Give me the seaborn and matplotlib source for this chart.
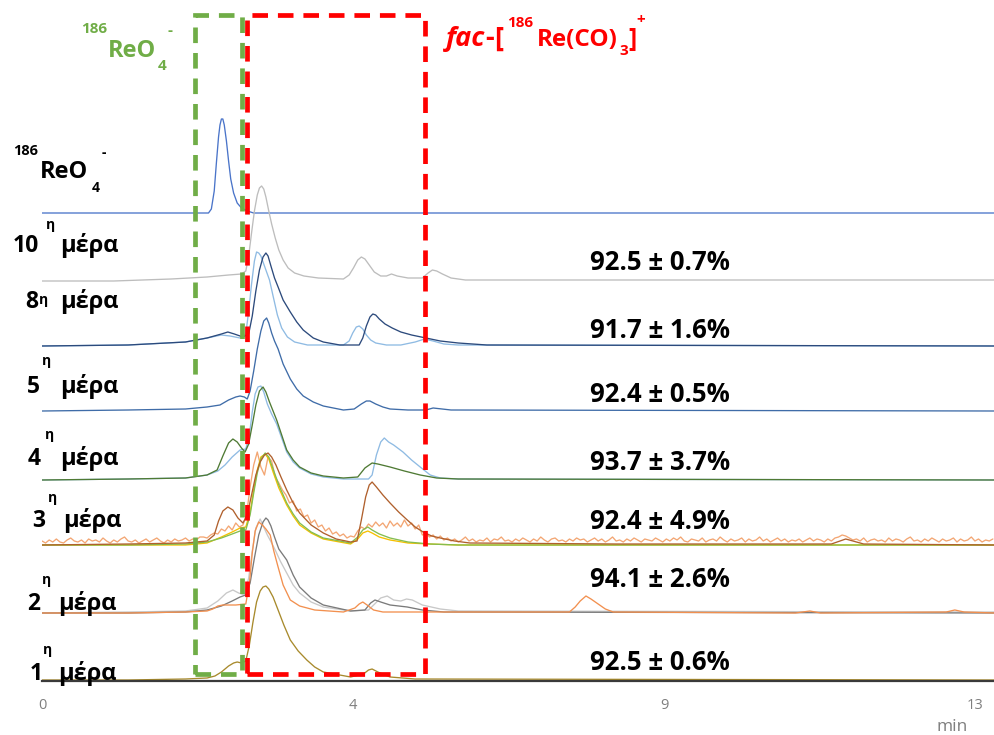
import numpy as np
import matplotlib
matplotlib.use("Agg")
import matplotlib.pyplot as plt
from matplotlib.patches import Rectangle
import seaborn as sns

W, H = 995, 735
T_END = 13.28  # last recorded retention time (min)

# ---------------- chromatogram data (time in min, signal in a.u.) ----------------
reo4_t = [0, 2.32, 2.36, 2.40, 2.43, 2.46, 2.48, 2.50, 2.52, 2.54, 2.57, 2.60, 2.63, 2.67,
          2.72, 2.78, 2.86, 2.95, T_END]
reo4_h = [0, 0, 4, 22, 50, 76, 88, 94, 94, 88, 72, 52, 34, 20,
          10, 5, 2, 0, 0]

d10_gray_t = [0, 1.0, 1.8, 2.3, 2.6, 2.78, 2.84, 2.88, 2.92, 2.96, 3.00, 3.03, 3.06, 3.09, 3.12,
              3.16, 3.20, 3.25, 3.30, 3.36, 3.43, 3.52, 3.65, 3.85, 4.2, 4.28, 4.34, 4.40, 4.45,
              4.50, 4.56, 4.63, 4.72, 4.80, 4.87, 4.95, 5.1, 5.3, 5.38, 5.44, 5.50, 5.58, 5.7,
              5.9, T_END]
d10_gray_h = [0, 0, 2, 4, 6, 7, 10, 25, 48, 70, 86, 93, 95, 92, 84,
              70, 57, 43, 31, 21, 13, 8, 5, 3, 2, 6, 13, 21, 24,
              22, 16, 9, 5, 5, 7, 5, 3, 3, 8, 11, 10, 7, 3,
              1, 1]

d8_light_t = [0, 1.2, 2.0, 2.3, 2.5, 2.62, 2.76, 2.84, 2.88, 2.92, 2.96, 2.99, 3.02, 3.05, 3.08,
              3.12, 3.17, 3.22, 3.28, 3.34, 3.42, 3.52, 3.7, 4.2, 4.28, 4.33, 4.38, 4.42, 4.47,
              4.52, 4.58, 4.65, 4.8, 5.0, 5.2, 5.33, 5.45, 5.6, 5.8, T_END]
d8_light_h = [0, 1, 4, 8, 11, 10, 8, 12, 35, 62, 85, 94, 93, 90, 84,
              76, 66, 50, 31, 18, 9, 4, 1, 1, 5, 13, 19, 20, 17,
              11, 6, 3, 1, 1, 4, 7, 5, 2, 1, 0]

d8_navy_t = [0, 1.2, 2.0, 2.3, 2.5, 2.59, 2.68, 2.8, 2.88, 2.93, 2.98, 3.03, 3.08, 3.12, 3.15,
             3.19, 3.24, 3.29, 3.36, 3.46, 3.55, 3.64, 3.78, 3.92, 4.15, 4.42, 4.47, 4.52, 4.57,
             4.61, 4.65, 4.70, 4.78, 4.88, 5.0, 5.15, 5.35, 5.55, 5.8, 6.2, T_END]
d8_navy_h = [0, 1, 4, 8, 12, 14, 12, 9, 12, 30, 55, 76, 89, 93, 90,
             80, 68, 59, 46, 34, 24, 16, 8, 4, 1, 1, 8, 20, 29,
             32, 31, 27, 22, 18, 14, 11, 8, 5, 3, 1, 0]

d5_blue_t = [0, 1.2, 2.0, 2.3, 2.48, 2.6, 2.7, 2.76, 2.82, 2.86, 2.9, 2.95, 3.0, 3.05, 3.09,
             3.13, 3.16, 3.2, 3.24, 3.29, 3.36, 3.46, 3.55, 3.64, 3.78, 3.92, 4.2, 4.35, 4.45,
             4.52, 4.57, 4.65, 4.75, 4.85, 5.1, 5.35, 5.45, 5.7, T_END]
d5_blue_h = [0, 1, 2, 4, 6, 11, 14, 15, 14, 12, 20, 40, 62, 80, 90,
             93, 88, 78, 70, 62, 47, 32, 22, 15, 9, 5, 1, 2, 7,
             10, 10, 7, 4, 2, 1, 1, 3, 1, 0]

d4_green_t = [0, 1.2, 2.0, 2.3, 2.44, 2.52, 2.6, 2.66, 2.72, 2.78, 2.83, 2.88, 2.93, 2.98, 3.03,
              3.08, 3.12, 3.17, 3.22, 3.27, 3.34, 3.41, 3.5, 3.59, 3.75, 3.92, 4.2, 4.4, 4.5,
              4.6, 4.68, 4.85, 5.05, 5.27, 5.5, 5.8, T_END]
d4_green_h = [0, 1, 2, 5, 10, 24, 37, 41, 38, 32, 28, 36, 55, 75, 89,
              93, 88, 78, 69, 60, 45, 30, 20, 13, 7, 4, 2, 3, 12,
              17, 16, 13, 9, 5, 2, 1, 0]

d4_light_t = [0, 1.2, 2.0, 2.3, 2.45, 2.55, 2.65, 2.76, 2.84, 2.89, 2.93, 2.97, 3.01, 3.05, 3.09,
              3.14, 3.2, 3.27, 3.34, 3.41, 3.5, 3.59, 3.75, 3.92, 4.2, 4.55, 4.6, 4.66, 4.72,
              4.77, 4.83, 4.9, 5.03, 5.15, 5.27, 5.41, 5.55, 5.8, T_END]
d4_light_h = [0, 1, 2, 5, 9, 15, 23, 30, 31, 45, 68, 86, 93, 94, 88,
              76, 66, 56, 42, 28, 18, 12, 6, 3, 1, 1, 5, 25, 38,
              42, 38, 35, 28, 20, 13, 5, 2, 1, 0]

d3_brown_t = [0, 1.2, 2.0, 2.3, 2.4, 2.46, 2.52, 2.59, 2.66, 2.73, 2.8, 2.86, 2.92, 2.98, 3.04,
              3.1, 3.15, 3.2, 3.26, 3.33, 3.41, 3.5, 3.59, 3.75, 3.92, 4.1, 4.3, 4.39, 4.45,
              4.51, 4.56, 4.6, 4.66, 4.75, 4.85, 4.97, 5.09, 5.2, 5.31, 5.43, 5.55, 5.75, 5.96,
              8.0, 11.0, 11.12, 11.2, 11.3, 11.45, T_END]
d3_brown_h = [0, 1, 2, 4, 10, 24, 34, 38, 35, 27, 22, 30, 50, 70, 83,
              90, 92, 88, 80, 68, 55, 42, 32, 20, 12, 6, 3, 4, 25,
              48, 60, 63, 58, 50, 42, 33, 25, 18, 13, 9, 7, 4, 2,
              1, 1, 4, 6, 4, 1, 0]

d3_green_t = [0, 1.2, 2.0, 2.3, 2.5, 2.65, 2.76, 2.84, 2.9, 2.95, 3.0, 3.05, 3.11, 3.16, 3.22,
              3.3, 3.41, 3.5, 3.59, 3.75, 3.92, 4.3, 4.4, 4.47, 4.54, 4.6, 4.7, 4.85, 5.1,
              5.4, 5.8, T_END]
d3_green_h = [0, 0, 1, 3, 7, 11, 14, 15, 30, 52, 72, 86, 92, 88, 76,
              60, 42, 31, 22, 13, 7, 2, 8, 15, 18, 15, 11, 7, 3,
              1, 0, 0]

d3_yellow_t = d3_green_t
d3_yellow_h = [0, 0, 0, 2, 8, 13, 17, 18, 33, 55, 75, 88, 91, 86, 73,
               57, 40, 29, 20, 12, 6, 1, 6, 12, 14, 12, 8, 5, 2,
               1, 0, 0]

# noisy trace, sampled every 0.05 min from 0.00 to 13.25 min
d3_orange_t = np.round(np.arange(266) * 0.05, 2)
d3_orange_h = (
    [4, 2, 5, 3, 6, 3, 2, 5, 7, 4, 3, 5, 2, 6, 4, 5, 3, 7, 4, 2,
     5, 3, 6, 8, 4, 3, 5, 2, 4, 6, 3, 5, 7, 4, 2, 5, 3, 6, 4, 5,
     7, 4, 6, 5, 8]
    + [8, 7, 10, 12, 11, 16, 14, 19, 15, 22, 18, 20,
       30, 58, 80, 93, 78, 70, 88, 84, 68, 62, 55, 50,
       42, 44, 34, 36, 28, 30, 22, 25, 18, 20, 14, 17,
       11, 13, 9, 11, 7, 9, 8, 14, 18, 16, 21, 18,
       23, 19, 22, 17, 24, 19, 22, 18, 25, 19, 22, 16,
       20, 10, 12, 8, 10, 6, 9]
    + [5, 7, 4, 6, 3, 5, 8, 4, 6, 3, 5, 4, 7, 3, 6, 5, 8, 4, 5, 3,
       6, 4, 7, 5, 3, 6, 4, 8, 5, 3, 6, 7, 4, 5, 3, 6, 4, 7, 5, 6,
       3, 5, 7, 4, 6, 3, 5, 8, 4, 5, 3, 6, 4, 7, 5, 3, 6, 5, 4, 7,
       5, 3, 6, 4, 7, 5, 8, 4, 3, 6, 5, 4, 7, 3, 5, 6, 4, 8, 5, 3,
       6, 4, 5, 7, 3, 6, 4, 5, 8, 4, 6, 3, 5, 7, 4, 6, 3, 5, 4, 6,
       3, 5, 7, 4, 6, 5, 3, 6, 4, 7, 8, 10, 9, 7, 5, 6, 4, 7, 3, 5,
       6, 4, 5, 3, 7, 4, 6, 5, 3, 6, 8, 4, 5, 3, 6, 4, 7, 5, 3, 6,
       4, 5, 7, 3, 6, 4, 5, 8, 4, 6, 3, 5, 4, 6]
)

d2_lgray_t = [0, 1.2, 2.0, 2.3, 2.45, 2.57, 2.66, 2.74, 2.82, 2.88, 2.93, 2.98, 3.04, 3.09, 3.14,
              3.2, 3.25, 3.32, 3.41, 3.5, 3.59, 3.75, 3.92, 4.3, 4.55, 4.65, 4.72, 4.81, 4.9,
              5.0, 5.08, 5.16, 5.3, 5.55, 5.8, T_END]
d2_lgray_h = [0, 1, 2, 5, 12, 20, 23, 20, 18, 35, 62, 85, 94, 86, 78,
              70, 63, 52, 40, 28, 20, 11, 6, 2, 3, 10, 15, 17, 13,
              12, 14, 13, 8, 4, 2, 1]

d2_dgray_t = [0, 1.2, 2.0, 2.3, 2.5, 2.65, 2.76, 2.84, 2.9, 2.96, 3.02, 3.08, 3.12, 3.15, 3.19,
              3.24, 3.3, 3.41, 3.5, 3.59, 3.75, 3.92, 4.3, 4.5, 4.58, 4.64, 4.72, 4.85, 5.09,
              5.3, 5.6, T_END]
d2_dgray_h = [0, 0, 1, 3, 7, 12, 16, 18, 30, 55, 78, 91, 95, 93, 87,
              76, 64, 53, 38, 26, 15, 8, 2, 3, 10, 13, 11, 8, 6,
              3, 1, 0]

d2_orange_t = [0, 1.2, 2.0, 2.3, 2.38, 2.45, 2.52, 2.7, 2.84, 2.89, 2.93, 2.97, 3.02, 3.07, 3.12,
               3.18, 3.23, 3.29, 3.36, 3.46, 3.59, 3.8, 4.2, 4.36, 4.42, 4.47, 4.53, 4.62, 4.75,
               7.35, 7.43, 7.5, 7.58, 7.65, 7.75, 7.85, 7.96, 10.5, 10.7, 10.85, 12.6, 12.72,
               12.85, T_END]
d2_orange_h = [0, 0, 1, 2, 4, 7, 8, 8, 9, 30, 60, 82, 91, 88, 84,
               78, 62, 46, 28, 13, 7, 3, 1, 5, 9, 11, 8, 3, 1,
               1, 6, 12, 17, 14, 9, 4, 1, 0, 2, 0, 1, 3,
               1, 0]

d1_gold_t = [0, 1.2, 2.0, 2.3, 2.41, 2.5, 2.6, 2.67, 2.72, 2.78, 2.84, 2.89, 2.94, 2.99, 3.04,
             3.08, 3.12, 3.16, 3.22, 3.29, 3.37, 3.46, 3.57, 3.69, 3.8, 3.92, 4.3, 4.48, 4.55,
             4.6, 4.68, 4.85, 5.2, T_END]
d1_gold_h = [0, 0, 1, 2, 4, 8, 14, 17, 18, 17, 19, 35, 58, 78, 89,
             93, 94, 91, 83, 70, 55, 40, 29, 20, 13, 8, 3, 6, 10,
             11, 8, 3, 1, 0]

# radiochemical purity of the complex per sampling day
day_numbers = ["10", "8", "5", "4", "3", "2", "1"]
purity_labels = ["92.5 ± 0.7%", "91.7 ± 1.6%", "92.4 ± 0.5%", "93.7 ± 3.7%",
                 "92.4 ± 4.9%", "94.1 ± 2.6%", "92.5 ± 0.6%"]

# x-axis ticks: evenly spaced, labelled with rounded minutes
tick_pos = [0, 13 / 3, 26 / 3, 13]
tick_labels = ["0", "4", "9", "13"]

# integration windows (min)
reo4_window = (2.13, 2.79)
complex_window = (2.86, 5.34)

# ---------------- figure ----------------
sns.set_theme(style="white")
FONT = ["Open Sans", "DejaVu Sans"]
plt.rcParams["font.family"] = FONT

fig = plt.figure(figsize=(W / 100, H / 100), dpi=100)
ax = fig.add_axes([42 / W, 54 / H, (W - 42) / W, 681 / H])

# vertical stacking offsets (signal units) for each run
traces = [
    (reo4_t, reo4_h, 468, "#4a74c9"),
    (d10_gray_t, d10_gray_h, 400, "#bdbdbd"),
    (d8_light_t, d8_light_h, 335, "#8fbbe3"),
    (d8_navy_t, d8_navy_h, 335, "#2c4a7c"),
    (d5_blue_t, d5_blue_h, 270, "#3f6ca8"),
    (d4_light_t, d4_light_h, 201, "#8fbbe3"),
    (d4_green_t, d4_green_h, 201, "#4f7a34"),
    (d3_orange_t, d3_orange_h, 136, "#f3a673"),
    (d3_yellow_t, d3_yellow_h, 136, "#f5c000"),
    (d3_green_t, d3_green_h, 136, "#84bd4f"),
    (d3_brown_t, d3_brown_h, 136, "#b0602d"),
    (d2_lgray_t, d2_lgray_h, 68, "#c8c8c8"),
    (d2_dgray_t, d2_dgray_h, 68, "#7a7a7a"),
    (d2_orange_t, d2_orange_h, 68, "#f2904f"),
    (d1_gold_t, d1_gold_h, 1, "#a88a2c"),
]
for t, h, off, col in traces:
    sns.lineplot(x=np.asarray(t, float), y=np.asarray(h, float) + off, ax=ax,
                 color=col, linewidth=0.95, errorbar=None, legend=False)

# dashed integration windows
for (x0, x1), col in [(reo4_window, "#70ad47"), (complex_window, "#ff0000")]:
    ax.add_patch(Rectangle((x0, 7), x1 - x0, 659, fill=False, edgecolor=col,
                           linewidth=3.4, linestyle=(0, (3.3, 2.1)), zorder=10))

ax.set_xlim(0, T_END)
ax.set_ylim(0, 681)
ax.set_xticks(tick_pos)
ax.set_xticklabels(tick_labels)
ax.set_yticks([])
ax.tick_params(axis="x", length=0, pad=12, labelsize=10.5, labelcolor="#7f7f7f")
for s in ["left", "right", "top"]:
    ax.spines[s].set_visible(False)
ax.spines["bottom"].set_color("#3a3a3a")
ax.spines["bottom"].set_linewidth(1.6)
ax.set_xlabel("")
ax.set_ylabel("")
ax.set_facecolor("white")

renderer = fig.canvas.get_renderer()


def put(x, y, s, size, color="black", style="normal", weight="bold"):
    return fig.text(x / W, 1 - y / H, s, fontsize=size, color=color, fontstyle=style,
                    fontweight=weight, ha="left", va="baseline", family=FONT)


def put_runs(x, y, runs, color):
    """Lay out text pieces left to right, returning the x where the last one ends."""
    for s, size, dy, style in runs:
        t = put(x, y + dy, s, size, color, style)
        x += t.get_window_extent(renderer).width
    return x


# axis unit
put(937, 731, "min", 12.5, color="#7f7f7f", weight="normal")

# species labels
green = "#70ad47"
put(81, 33, "186", 11, green)
put(108, 57, "ReO", 17, green)
put(158, 70, "4", 11, green)
put(168, 35, "-", 11, green)

put(13, 155, "186", 10.5)
put(40, 178, "ReO", 17)
put(92, 192, "4", 10)
put(102, 157, "-", 10)

red = "#ff0000"
x_br = put_runs(446, 46, [("fac", 19.5, 0, "italic"), ("-", 19.5, 0, "normal"),
                          ("[", 19.5, 0, "normal")], red)
x_sup = put_runs(x_br + 4, 27, [("186", 11, 0, "normal")], red)
x_end = put_runs(x_sup + 4, 46, [("Re(CO)", 17.5, 0, "normal")], red)
put(x_end + 1, 55, "3", 11, red)
put(x_end + 10, 46, "]", 18, red)
put(x_end + 18, 24, "+", 11, red)

# day labels with superscript ordinal
num_x = [13, 25, 27, 28, 32, 27, 30]
eta_x = [46, 39, 42, 45, 48, 42, 43]
eta_y = [229, 304, 365, 439, 502, 584, 654]
word_x = [60, 60, 60, 60, 63, 58, 58]
base_y = [252, 308, 393, 465, 527, 610, 680]
for n, nx, ex, ey, wx, by in zip(day_numbers, num_x, eta_x, eta_y, word_x, base_y):
    put(nx, by, n, 16.5)
    put(ex, ey, "η", 10)
    put(wx, by, "μέρα", 17)

# purity values
pct_y = [270, 338, 402, 470, 529, 587, 670]
for s, py in zip(purity_labels, pct_y):
    put(590, py, s, 18.5)

fig.savefig("out.png", dpi=100, facecolor="white")
